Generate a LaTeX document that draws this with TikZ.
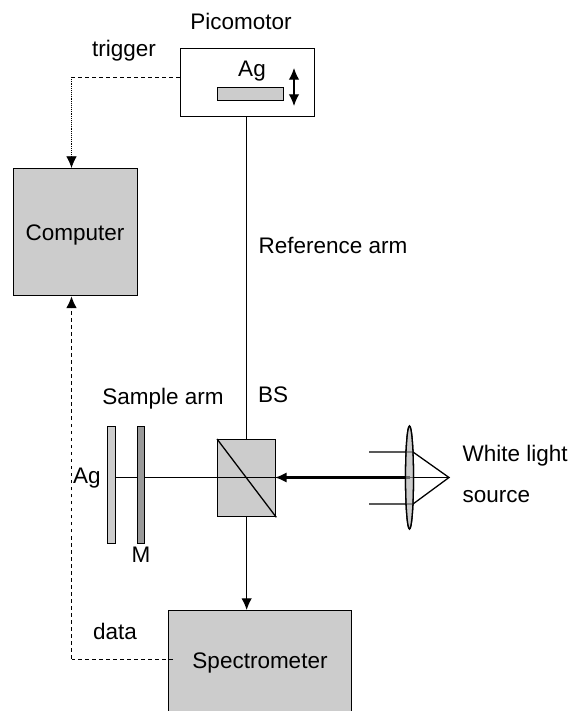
\documentclass[tikz,border=0pt]{standalone}
\usepackage{fontspec}
\setmainfont{Liberation Sans}
\usetikzlibrary{arrows,arrows.meta,shapes,calc,positioning}
\definecolor{boxgray}{gray}{0.8}
\definecolor{mirrorgray}{gray}{0.6}
\begin{document}
\begin{tikzpicture}[x=0.03cm, y=-0.03cm, line width=1.1pt, inner sep=0pt,
    every node/.style={font=\fontsize{19.2pt}{23pt}\selectfont},
    block/.style={draw, fill=boxgray, rectangle, anchor=north west},
    tip/.style={-{Latex[length=10pt,width=9pt]}}]
   \useasboundingbox (0,0) rectangle (570,711);
   \clip (0,0) rectangle (570,711);
   % boxes
   \node (pico) [draw, fill=white, anchor=north west, minimum width=4.02cm, minimum height=2.04cm] at (180,48) {};
   \node (comp) [block, minimum width=3.72cm, minimum height=3.81cm] at (13,168) {};
   \node (spec) [block, minimum width=5.49cm, minimum height=3.15cm] at (168,610) {};
   \node (bs) [block, minimum width=1.74cm, minimum height=2.31cm] at (217,439) {};
   \node (plate) [block, minimum width=1.98cm, minimum height=0.39cm] at (217,87) {};
   \node (ag) [block, line width=0.8pt, minimum width=0.24cm, minimum height=3.51cm] at (107,426) {};
   \node (mirror) [block, line width=0.8pt, fill=mirrorgray, minimum width=0.21cm, minimum height=3.51cm] at (137,426) {};
   \node (lens) [draw, fill=boxgray, ellipse, minimum width=0.24cm, minimum height=3.09cm] at (409.5,477.5) {};
   % coordinates
   \coordinate (motortop) at (294,68);
   \coordinate (motorbot) at (294,106);
   \coordinate (focus) at (449,477.5);
   \coordinate (rayup) at (369,452);
   \coordinate (raydown) at (369,504);
   \coordinate (lensup) at (413,452);
   \coordinate (lensdown) at (413,504);
   \coordinate (trigcorner) at (71.5,77);
   \coordinate (datacorner) at (71.5,659);
   \coordinate (bsin) at (275,477.5);
   \coordinate (lensin) at (409.5,477.5);
   \coordinate (aglight) at (115,477.5);
   \coordinate (mirrorin) at (137,477.5);
   \coordinate (mirrorout) at (144,477.5);
   % beams
   \draw (pico.south -| bs.north) -- (bs.north);
   \draw (aglight) -- (mirrorin);
   \draw (mirrorout) -- (bsin);
   \draw (bs.north west) -- (bs.south east);
   \draw [tip] (bs.south) -- (spec.north -| bs.south);
   \draw [tip, line width=1.8pt] (lensin) -- (bsin);
   \draw [{Latex[length=10pt,width=9pt]}-{Latex[length=10pt,width=9pt]}] (motortop) -- (motorbot);
   % lens
   \draw (rayup) -- (lensup) -- (focus) -- (lensdown) -- (raydown);
   \draw (lensin) -- (focus);
   \node (lensfront) [draw, fill=boxgray, fill opacity=0.5, ellipse, minimum width=0.24cm, minimum height=3.09cm] at (409.5,477.5) {};
   % signal lines
   \draw [dashed, line width=0.8pt] (pico.west |- trigcorner) -- (trigcorner);
   \draw [densely dotted, line width=0.6pt] (trigcorner) -- ($(trigcorner)+(0,80)$);
   \draw [tip, line width=0.6pt] ($(trigcorner)+(0,80)$) -- (trigcorner |- comp.north);
   \draw [dashed, line width=0.8pt] (173,659) -- (datacorner);
   \draw [dashed, line width=1.1pt] (datacorner) -- ($(datacorner |- comp.south)+(0,8)$);
   \draw [tip] ($(datacorner |- comp.south)+(0,12)$) -- (datacorner |- comp.south);
   % labels
   \node (lpico) at (241,21) {Picomotor};
   \node (ltrigger) at (124,51) {trigger};
   \node (lag) at (252,71) {Ag};
   \node (lcomp) at (75,235) {Computer};
   \node (lref) [anchor=west] at (258,245) {Reference arm};
   \node (lsample) at (163,399) {Sample arm};
   \node (lbs) at (273,395) {BS};
   \node (lag2) at (87,478) {Ag};
   \node (lm) at (141,555) {M};
   \node (lwhite) [anchor=west] at (462,456) {White light};
   \node (lsource) [anchor=west] at (462,497) {source};
   \node (ldata) at (115,631) {data};
   \node (lspec) at (260,663) {Spectrometer};
\end{tikzpicture}
\end{document}
